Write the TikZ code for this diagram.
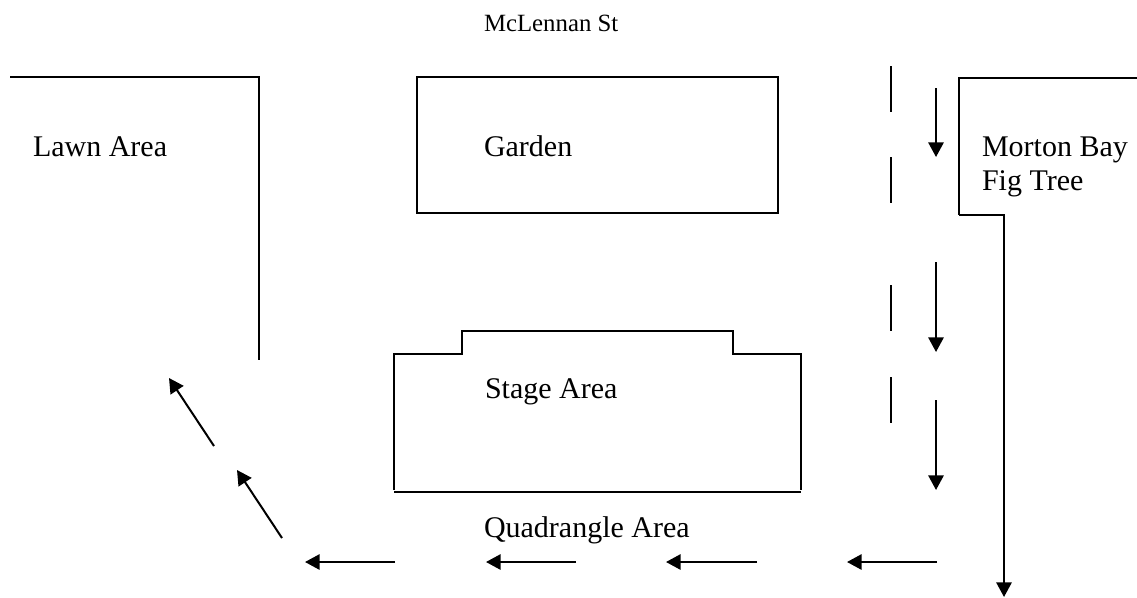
\documentclass[tikz,border=0pt]{standalone}
\usepackage{fontspec}
\setmainfont{Liberation Serif}
\usetikzlibrary{arrows.meta}
\tikzset{
  wall/.style={line width=1.5pt, line join=miter, black},
  flow/.style={line width=1.5pt, black, -{Triangle[length=11pt,width=11.5pt]}},
  lbl/.style={anchor=base west, inner sep=0pt, outer sep=0pt, font=\fontsize{22.5}{26}\selectfont, align=left},
  street/.style={anchor=base west, inner sep=0pt, outer sep=0pt, font=\fontsize{18.6}{22}\selectfont}
}
\begin{document}
\begin{tikzpicture}[x=0.75pt,y=-0.75pt]
\useasboundingbox (0,0) rectangle (1137,597);
% labels
\node[street] (street) at (484,31) {McLennan St};
\node[lbl] (lawn) at (33,156) {Lawn Area};
\node[lbl] (garden) at (484,156) {Garden};
\node[lbl] (morton) at (982,156) {Morton Bay};
\node[lbl] (fig) at (982,190) {Fig Tree};
\node[lbl] (stage) at (485,398) {Stage Area};
\node[lbl] (quad) at (484,537) {Quadrangle Area};
% walls
\draw[wall] (10,77) -- (259,77) -- (259,360);
\draw[wall] (417,77) rectangle (778,213);
\draw[wall] (1137,78) -- (958.5,78) -- (958.5,215);
\draw[wall] (394,490) -- (394,354) -- (462,354) -- (462,331) -- (733,331) -- (733,354) -- (801,354) -- (801,490);
\draw[wall] (394,492) -- (801,492);
% dashes
\draw[wall] (891,66) -- (891,112);
\draw[wall] (891,157) -- (891,203);
\draw[wall] (891,285) -- (891,331);
\draw[wall] (891,377) -- (891,423);
% arrows
\draw[flow] (958.5,215) -- (1004,215) -- (1004,597);
\draw[flow] (936,88) -- (936,157);
\draw[flow] (936,262) -- (936,352);
\draw[flow] (936,400) -- (936,490);
\draw[flow] (937,562) -- (847,562);
\draw[flow] (757,562) -- (666,562);
\draw[flow] (576,562) -- (486,562);
\draw[flow] (395,562) -- (305,562);
\draw[flow] (282,538) -- (237,470);
\draw[flow] (214,446) -- (169,378);
\end{tikzpicture}
\end{document}
